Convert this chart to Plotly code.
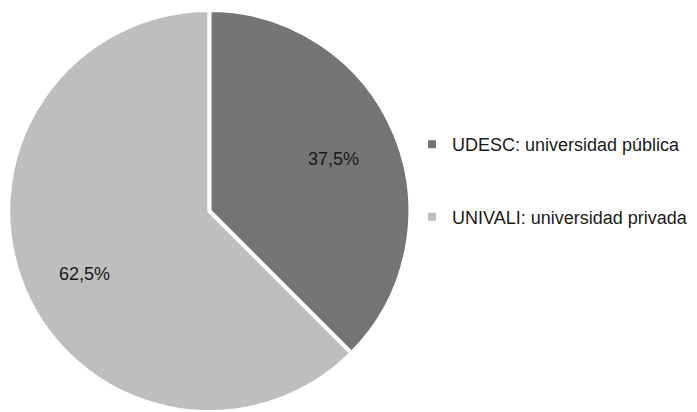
import math
import plotly.graph_objects as go

labels = ["UDESC: universidad pública", "UNIVALI: universidad privada"]
values = [37.5, 62.5]
text_labels = ["37,5%", "62,5%"]
colors = ["#757575", "#bebebe"]

W, H = 697, 412
R = 201          # pie radius in px
CX, CY = 209.3, 211   # pie centre in px (from top-left)
dom_x = [(CX - R) / W, (CX + R) / W]
dom_y = [(H - CY - R) / H, (H - CY + R) / H]

fig = go.Figure()
fig.add_trace(go.Pie(
    labels=labels, values=values, sort=False, direction="clockwise", rotation=0,
    marker=dict(colors=colors, line=dict(color="white", width=4)),
    textinfo="none", hoverinfo="label+percent", showlegend=False,
    domain=dict(x=dom_x, y=dom_y),
))

# legend entries
for i, (lab, col) in enumerate(zip(labels, colors)):
    fig.add_trace(go.Scatter(
        x=[None], y=[None], mode="markers", name=lab, legendgroup=f"g{i}",
        marker=dict(symbol="square", size=8, color=col, line=dict(width=0)),
    ))

# slice labels placed from the data (mid-angle of each slice)
cx = (dom_x[0] + dom_x[1]) / 2
cy = (dom_y[0] + dom_y[1]) / 2
rfac = [0.67, 0.82]
total = sum(values)
cum = 0
for v, t, rf in zip(values, text_labels, rfac):
    mid = 2 * math.pi * (cum + v / 2) / total
    cum += v
    dx = rf * R * math.sin(mid) / W
    dy = rf * R * math.cos(mid) / H
    fig.add_annotation(x=cx + dx, y=cy + dy, xref="paper", yref="paper",
                       text=t, showarrow=False,
                       font=dict(size=18, color="#1a1a1a"))

fig.update_layout(
    width=W, height=H,
    margin=dict(l=0, r=0, t=0, b=0, autoexpand=False),
    paper_bgcolor="white", plot_bgcolor="white",
    font=dict(family="Liberation Sans, Arial, sans-serif", size=18, color="#1a1a1a"),
    xaxis=dict(visible=False), yaxis=dict(visible=False),
    legend=dict(x=412 / W, y=1 - 126 / H, xanchor="left", yanchor="top",
                traceorder="grouped", tracegroupgap=46, itemwidth=30,
                font=dict(size=18), bgcolor="rgba(0,0,0,0)"),
)

fig.write_html("out.html", config={"displayModeBar": False},
               post_script="document.body.style.margin='0';document.body.style.overflow='hidden';")
